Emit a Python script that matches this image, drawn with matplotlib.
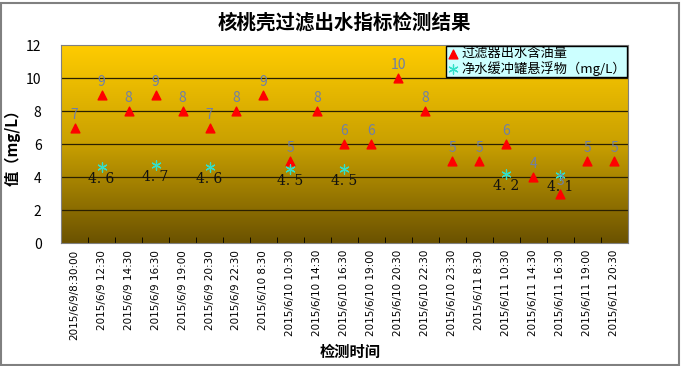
import numpy as np
import matplotlib
matplotlib.use('Agg')
import matplotlib.pyplot as plt
from matplotlib.colors import LinearSegmentedColormap
from matplotlib.ticker import FixedLocator

plt.rcParams['font.family'] = ['Noto Sans CJK SC', 'DejaVu Sans']

# sample times (x categories)
times = ['2015/6/9/8:30:00', '2015/6/9 12:30', '2015/6/9 14:30', '2015/6/9 16:30',
         '2015/6/9 19:00', '2015/6/9 20:30', '2015/6/9 22:30', '2015/6/10 8:30',
         '2015/6/10 10:30', '2015/6/10 14:30', '2015/6/10 16:30', '2015/6/10 19:00',
         '2015/6/10 20:30', '2015/6/10 22:30', '2015/6/10 23:30', '2015/6/11 8:30',
         '2015/6/11 10:30', '2015/6/11 14:30', '2015/6/11 16:30', '2015/6/11 19:00',
         '2015/6/11 20:30']
# oil content of filter outlet
oil = [7, 9, 8, 9, 8, 7, 8, 9, 5, 8, 6, 6, 10, 8, 5, 5, 6, 4, 3, 5, 5]
# suspended solids, only measured at some times
ss_idx = [1, 3, 5, 8, 10, 16, 18]
ss = [4.6, 4.7, 4.6, 4.5, 4.5, 4.2, 4.1]

fig = plt.figure(figsize=(6.88, 3.66), dpi=100)
ax = fig.add_axes([0.0887, 0.336, 0.824, 0.541])

n = len(times)
x = np.arange(n)
ax.set_xlim(-0.5, n - 0.5)
ax.set_ylim(0, 12)

# gradient background
cmap = LinearSegmentedColormap.from_list('bg', ['#6b5200', '#c9a000', '#ffcc00'])
grad = np.linspace(0, 1, 256).reshape(-1, 1)
ax.imshow(grad, aspect='auto', cmap=cmap, origin='lower',
          extent=(-0.5, n - 0.5, 0, 12), zorder=0)

for yv in range(2, 12, 2):
    ax.axhline(yv, color='#2a2000', lw=0.9, zorder=1)

ax.scatter(x, oil, marker='^', s=40, color='#ff0000', zorder=3, label='过滤器出水含油量')
ax.scatter(ss_idx, ss, marker=(6, 2, 0), s=45, color='#33e0c8', lw=0.9, zorder=3,
           label='净水缓冲罐悬浮物（mg/L）')

for xi, v in zip(x, oil):
    ax.text(xi, v + 0.35, str(v), ha='center', va='bottom', fontsize=10,
            color='#6f7fa8', zorder=4)
for xi, v in zip(ss_idx, ss):
    ax.text(xi, v - 0.3, f'{v:.1f}'.replace('.', '. '), ha='center', va='top',
            fontsize=10, color='#111111', family='DejaVu Serif', zorder=4)

ax.set_yticks(range(0, 13, 2))
ax.tick_params(axis='y', length=0, labelsize=10, pad=14)
ax.set_xticks(x)
ax.set_xticklabels(times, rotation=90, fontsize=7.5, family='DejaVu Sans')
ax.tick_params(axis='x', length=0, pad=5)
ax.xaxis.set_minor_locator(FixedLocator(np.arange(0.5, n - 0.5, 1)))
ax.tick_params(axis='x', which='minor', direction='in', length=4, color='#000000')
for s in ax.spines.values():
    s.set_color('#808080')

ax.set_ylabel('值（mg/L）', fontsize=11, fontweight='bold', labelpad=4)
fig.text(350 / 688, 1 - 352 / 366, '检测时间', ha='center', va='center',
         fontsize=11, fontweight='bold')
ax.set_title('核桃壳过滤出水指标检测结果', fontsize=14, fontweight='bold', pad=12)

leg = ax.legend(loc='upper right', fontsize=9.5, frameon=True, fancybox=False,
                handletextpad=0.1, borderpad=0.1, labelspacing=0.05,
                handlelength=1.0, borderaxespad=0.05)
leg.get_frame().set_facecolor('#ccffff')
leg.get_frame().set_edgecolor('#000000')
leg.get_frame().set_alpha(1)

fig.patches.append(plt.Rectangle((0.002, 0.003), 0.985, 0.99, transform=fig.transFigure,
                                 fill=False, edgecolor='#808080', lw=1.5))

fig.savefig('out.png', dpi=100)
